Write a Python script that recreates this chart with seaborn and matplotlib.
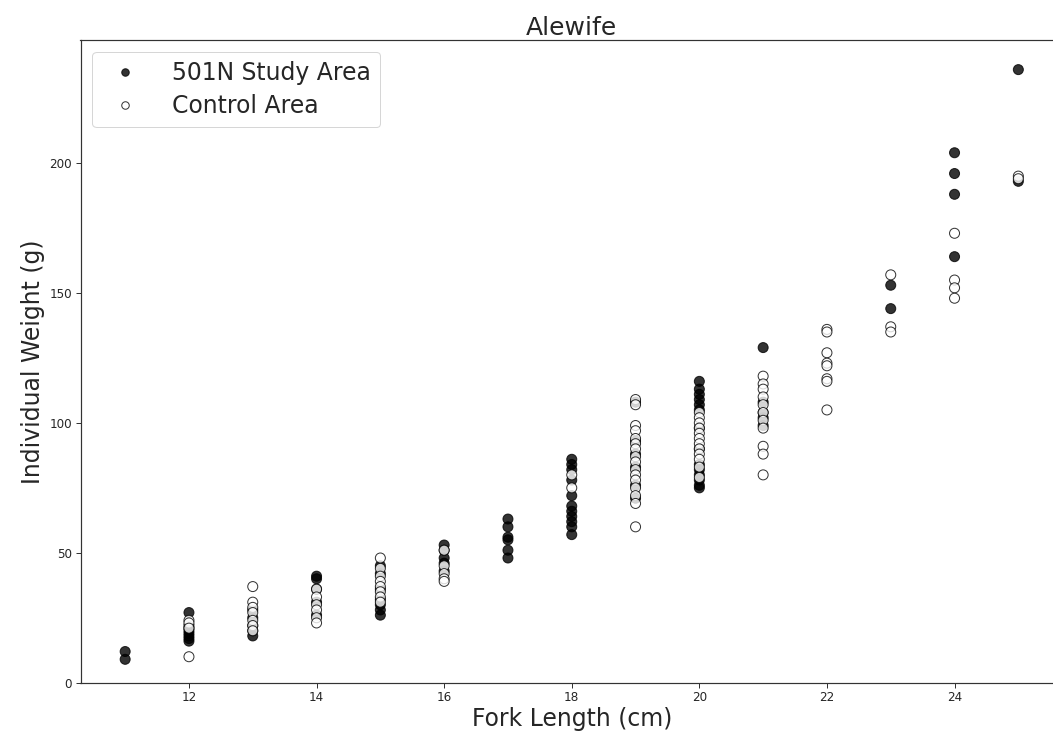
import matplotlib
matplotlib.use("Agg")
import matplotlib.pyplot as plt
import seaborn as sns
import pandas as pd

study_length = [11, 11,
                12, 12, 12, 12, 12, 12, 12, 12,
                13, 13, 13, 13, 13,
                14, 14, 14, 14, 14,
                15, 15, 15, 15, 15, 15, 15,
                16, 16, 16, 16, 16,
                17, 17, 17, 17, 17, 17,
                18, 18, 18, 18, 18, 18, 18, 18, 18, 18, 18,
                19, 19, 19, 19, 19, 19,
                20, 20, 20, 20, 20, 20, 20, 20, 20, 20, 20, 20, 20, 20,
                21, 21, 21, 21, 21,
                23, 23,
                24, 24, 24, 24,
                25, 25]
study_weight = [12, 9,
                27, 22, 21, 20, 19, 18, 17, 16,
                18, 20, 22, 25, 28,
                41, 40, 36, 31, 26,
                45, 42, 36, 32, 30, 28, 26,
                53, 51, 48, 46, 43,
                63, 60, 56, 55, 51, 48,
                86, 84, 82, 78, 72, 68, 66, 64, 62, 60, 57,
                108, 93, 88, 83, 76, 71,
                116, 113, 111, 109, 107, 105, 98, 90, 84, 82, 80, 78, 76, 75,
                129, 108, 104, 102, 99,
                153, 144,
                204, 196, 188, 164,
                236, 193]

control_length = [12, 12, 12, 12,
                  13, 13, 13, 13, 13, 13, 13,
                  14, 14, 14, 14, 14, 14,
                  15, 15, 15, 15, 15, 15, 15, 15,
                  16, 16, 16, 16, 16,
                  18, 18,
                  19, 19, 19, 19, 19, 19, 19, 19, 19, 19, 19, 19, 19, 19, 19, 19,
                  20, 20, 20, 20, 20, 20, 20, 20, 20, 20, 20, 20,
                  21, 21, 21, 21, 21, 21, 21, 21, 21, 21, 21,
                  22, 22, 22, 22, 22, 22, 22, 22,
                  23, 23, 23,
                  24, 24, 24, 24,
                  25, 25]
control_weight = [24, 23, 21, 10,
                  37, 31, 29, 27, 24, 22, 20,
                  36, 33, 30, 28, 25, 23,
                  48, 44, 41, 39, 37, 35, 33, 31,
                  51, 45, 42, 40, 39,
                  80, 75,
                  109, 107, 99, 97, 94, 92, 90, 87, 85, 82, 80, 78, 75, 72, 69, 60,
                  104, 102, 100, 98, 96, 94, 92, 90, 88, 86, 83, 79,
                  118, 115, 113, 110, 107, 104, 101, 98, 91, 88, 80,
                  136, 135, 127, 123, 122, 117, 116, 105,
                  157, 137, 135,
                  173, 155, 152, 148,
                  195, 194]

area_labels = ["501N Study Area", "Control Area"]
x_ticks = [12, 14, 16, 18, 20, 22, 24]
y_ticks = [0, 50, 100, 150, 200]

df = pd.DataFrame({
    "Fork Length (cm)": study_length + control_length,
    "Individual Weight (g)": study_weight + control_weight,
    "Area": [area_labels[0]] * len(study_length) + [area_labels[1]] * len(control_length),
})

sns.set_style("ticks")
plt.rcParams["font.family"] = ["DejaVu Sans"]

W, H, DPI = 1053, 740, 72
fig = plt.figure(figsize=(W / DPI, H / DPI), dpi=DPI)
left, right, top, bottom = 80.5, 1063, 40, 682.7
ax = fig.add_axes([left / W, (H - bottom) / H, (right - left) / W, (bottom - top) / H])

sns.scatterplot(data=df, x="Fork Length (cm)", y="Individual Weight (g)", hue="Area",
                hue_order=area_labels, palette={area_labels[0]: "black", area_labels[1]: "white"},
                edgecolor="black", linewidth=1.0, s=100, alpha=0.8, ax=ax)

ax.set_xlim(10.3, 25.7)
ax.set_ylim(0, 247.4)
ax.set_xticks(x_ticks)
ax.set_yticks(y_ticks)
ax.tick_params(labelsize=12, length=5, width=1, color="#333333")
for sp in ax.spines.values():
    sp.set_color("#333333")
    sp.set_linewidth(1.2)
ax.set_xlabel("Fork Length (cm)", fontsize=23.5, labelpad=3)
ax.set_ylabel("Individual Weight (g)", fontsize=23.5, labelpad=4)
ax.set_title("Alewife", fontsize=25, pad=5)

handles, labels = ax.get_legend_handles_labels()
ax.legend(handles, labels, loc="upper left", fontsize=23.5, markerscale=0.75, frameon=True,
          handletextpad=1.0, labelspacing=0.38)

fig.savefig("out.png", dpi=DPI)
